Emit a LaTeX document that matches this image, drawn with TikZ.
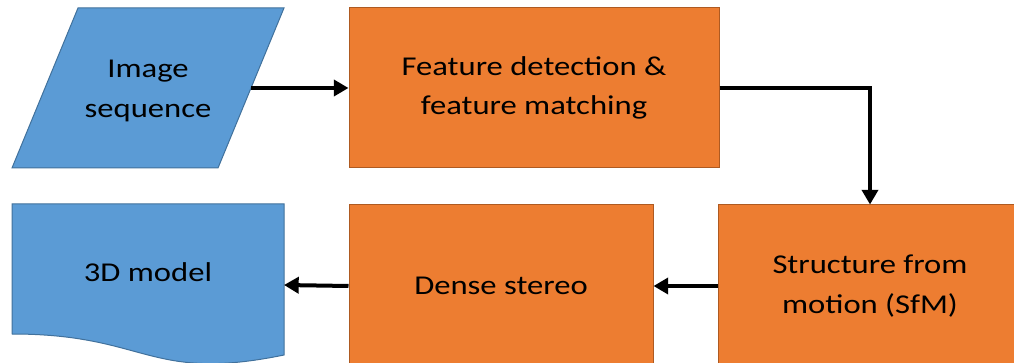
\documentclass[tikz,border=0pt]{standalone}
\usepackage{fontspec}
\setmainfont{Carlito}[FakeStretch=1.2]
\usetikzlibrary{arrows.meta}

\definecolor{inblue}{HTML}{5B9BD5}
\definecolor{inblueline}{HTML}{41719C}
\definecolor{procorange}{HTML}{ED7D31}
\definecolor{procline}{HTML}{AE5A21}

\tikzset{
  label font/.style={font=\fontsize{20.4pt}{29.5pt}\selectfont, align=center, text=black},
  process/.style={label font, rectangle, fill=procorange, draw=procline, line width=.75pt},
  inputshape/.style={fill=inblue, draw=inblueline, line width=.75pt},
  flow/.style={line width=3pt, -{Triangle[length=11pt,width=12pt]}},
}

\begin{document}
\begin{tikzpicture}[x=0.75pt,y=-0.75pt]
\useasboundingbox (0,0) rectangle (1014,363);
\clip (0,0) rectangle (1014,363);

% input: parallelogram
\draw[inputshape] (12,168) -- (78,8) -- (284,8) -- (218,168) -- cycle;
\node[label font] (img) at (148,91) {Image\\sequence};
\coordinate (imgout) at (251,88);

% top row
\node[process, minimum width=277.5pt, minimum height=120pt] (feat) at (534,88) {Feature detection \&\\feature matching};

% bottom row
\node[process, minimum width=228pt, minimum height=121.5pt] (sfm) at (870,286) {Structure from\\motion (SfM)};
\node[process, minimum width=228pt, minimum height=121.5pt] (dense) at (501,286) {Dense stereo};

% output: document shape
\node[minimum width=204pt, minimum height=121.5pt, inner sep=0pt, outer sep=0pt] (model) at (148,285) {};
\begin{scope}[shift={(model.north west)}]
\draw[inputshape]
  (0,0) -- (272,0) -- (272,151) .. controls (136,179) and (136,130) .. (0,130) -- cycle;
\end{scope}
\node[label font] (modeltext) at (148,272) {3D model};

%\draw[help lines] (0,0) grid[step=50] (1014,363);
\draw[flow] (imgout) -- (feat.west);
\draw[flow] (feat.east) -| (sfm.north);
\draw[flow] (sfm.west) -- (dense.east);
\draw[flow] (dense.west) -- (model.east);
\end{tikzpicture}
\end{document}
